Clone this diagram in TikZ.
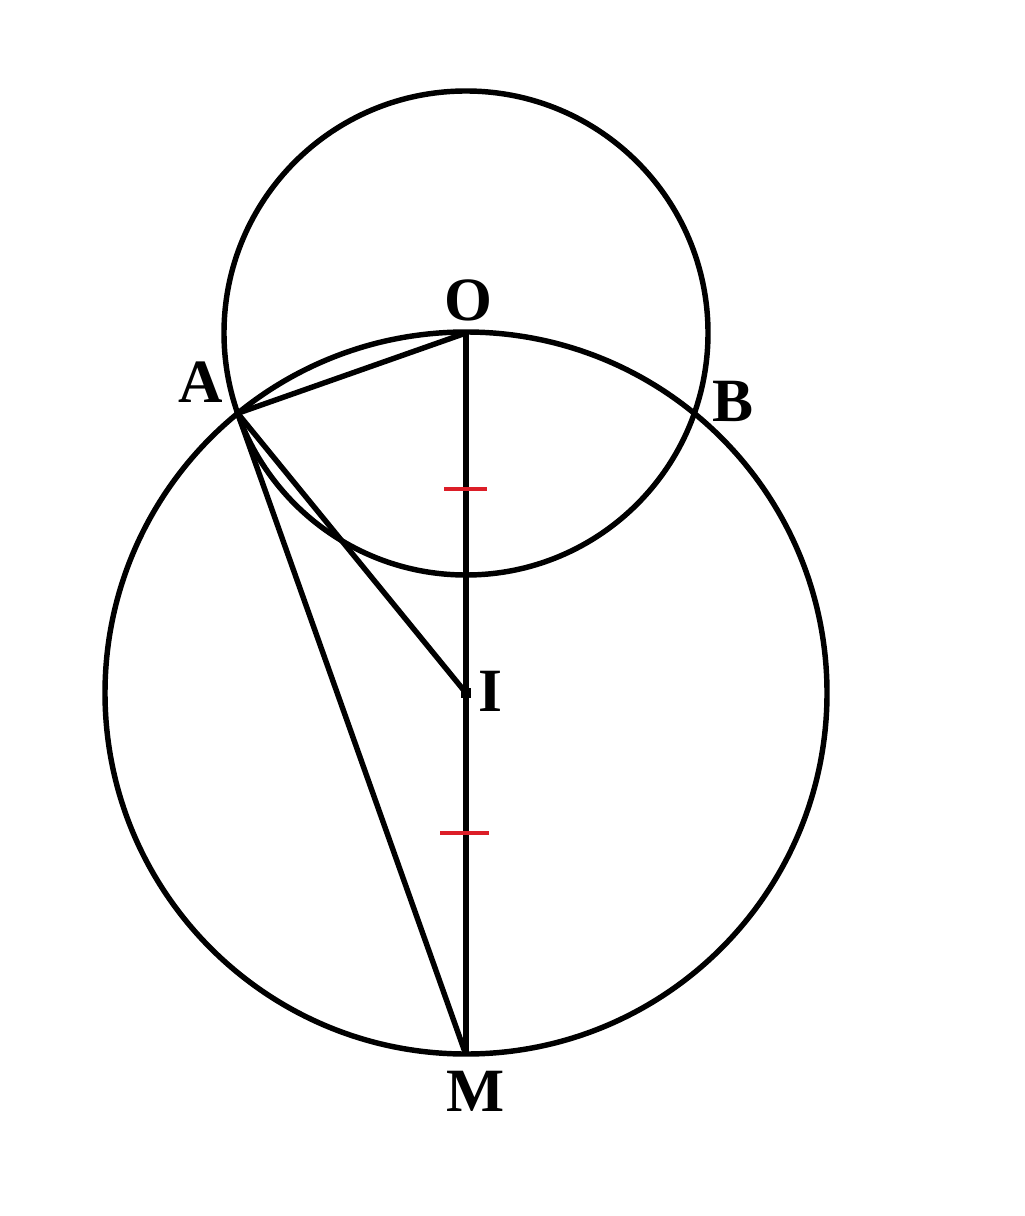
\documentclass[tikz,border=0pt]{standalone}
\usepackage{fontspec}
\setmainfont{Liberation Serif}
\begin{document}
\begin{tikzpicture}[x=0.01cm,y=-0.01cm,
  geo/.style={line width=1.55pt,black},
  tick/.style={line width=0.9pt,draw={rgb,255:red,220;green,30;blue,40}},
  lbl/.style={inner sep=0pt,font=\fontsize{17.5}{20}\selectfont\bfseries}]
\useasboundingbox (0,0) rectangle (1024,1216);
\fill[white] (0,0) rectangle (1024,1216);
\coordinate (O) at (466,333);
\coordinate (I) at (466,693);
\coordinate (M) at (466,1055);
\coordinate (A) at (237.7,413.3);
\coordinate (B) at (694.3,413.3);
\draw[geo] (O) circle (242);
\draw[geo] (I) circle (361);
\draw[geo] (O) -- (A) -- (M);
\draw[geo] (A) -- (I);
\draw[geo] (O) -- (M);
\fill (I) ++(-5,-5) rectangle ++(10,10);
\coordinate (t1a) at (444,489);
\coordinate (t1b) at (487,489);
\coordinate (t2a) at (440,833);
\coordinate (t2b) at (489,833);
\draw[tick] (t1a) -- (t1b);
\draw[tick] (t2a) -- (t2b);
\node[lbl] (lO) at (468,300) {O};
\node[lbl] (lA) at (201,382) {A};
\node[lbl] (lB) at (733,401) {B};
\node[lbl] (lI) at (490,691) {I};
\node[lbl] (lM) at (476,1091) {M};
\end{tikzpicture}
\end{document}
